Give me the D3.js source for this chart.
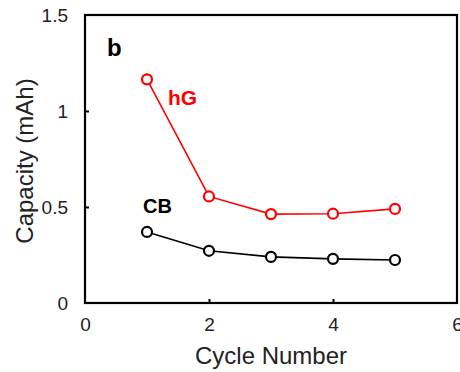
<!DOCTYPE html>
<html>
<head>
<meta charset="utf-8">
<script src="https://cdn.jsdelivr.net/npm/d3@7"></script>
<style>
  body { margin: 0; background: #fff; }
  svg text { font-family: "Liberation Sans", Arial, sans-serif; }
</style>
</head>
<body>
<div id="chart"></div>
<script>
// data
var cycles = [1, 2, 3, 4, 5];
var hG = [1.165, 0.555, 0.463, 0.465, 0.49];
var CB = [0.37, 0.272, 0.24, 0.23, 0.224];
var xTicks = [0, 2, 4, 6];
var yTicks = [0, 0.5, 1, 1.5];

var width = 460, height = 372;
var margin = {top: 15, right: 3, bottom: 69, left: 85};

var svg = d3.select("#chart").append("svg")
    .attr("width", width)
    .attr("height", height);

var x = d3.scaleLinear().domain([0, 6]).range([margin.left, width - margin.right]);
var y = d3.scaleLinear().domain([0, 1.5]).range([height - margin.bottom, margin.top]);

// frame
svg.append("rect")
    .attr("x", x(0)).attr("y", y(1.5))
    .attr("width", x(6) - x(0)).attr("height", y(0) - y(1.5))
    .attr("fill", "none").attr("stroke", "#000").attr("stroke-width", 2.2);

// axes, ticks pointing inward
var xAxis = svg.append("g")
    .attr("transform", "translate(0," + y(0) + ")")
    .call(d3.axisBottom(x).tickValues(xTicks).tickSizeInner(-4).tickSizeOuter(0).tickPadding(15).tickFormat(d3.format("d")));
var yAxis = svg.append("g")
    .attr("transform", "translate(" + x(0) + ",0)")
    .call(d3.axisLeft(y).tickValues(yTicks).tickSizeInner(-4).tickSizeOuter(0).tickPadding(17).tickFormat(function (d) { return d; }));

[xAxis, yAxis].forEach(function (g) {
    g.select(".domain").remove();
    g.selectAll(".tick line").attr("stroke", "#000").attr("stroke-width", 2);
    g.selectAll(".tick text").attr("font-size", 19).attr("fill", "#222")
        .style("font-family", "'Liberation Sans', Arial, sans-serif");
});
// hide the ticks sitting on the frame corners
xAxis.selectAll(".tick").filter(function (d) { return d === 0 || d === 6; }).select("line").remove();
yAxis.selectAll(".tick").filter(function (d) { return d === 0 || d === 1.5; }).select("line").remove();

// axis titles
svg.append("text")
    .attr("x", (x(0) + x(6)) / 2).attr("y", 364)
    .attr("text-anchor", "middle").attr("font-size", 24).attr("fill", "#222")
    .text("Cycle Number");
svg.append("text")
    .attr("transform", "translate(33,161) rotate(-90)")
    .attr("text-anchor", "middle").attr("font-size", 24).attr("fill", "#222")
    .text("Capacity (mAh)");

// series
var line = d3.line().x(function (d) { return x(d[0]); }).y(function (d) { return y(d[1]); });

function drawSeries(vals, color) {
    var pts = cycles.map(function (c, i) { return [c, vals[i]]; });
    svg.append("path").datum(pts)
        .attr("d", line).attr("fill", "none")
        .attr("stroke", color).attr("stroke-width", 1.6);
    svg.selectAll(null).data(pts).enter().append("circle")
        .attr("cx", function (d) { return x(d[0]); })
        .attr("cy", function (d) { return y(d[1]); })
        .attr("r", 5)
        .attr("fill", "#fff").attr("stroke", color).attr("stroke-width", 2.2);
}
drawSeries(hG, "#ff0000");
drawSeries(CB, "#000");

// labels
svg.append("text").attr("x", 107).attr("y", 56)
    .attr("font-size", 24).attr("font-weight", "bold").text("b");
svg.append("text").attr("x", 168).attr("y", 105)
    .attr("font-size", 21).attr("font-weight", "bold").attr("fill", "#ff0000").text("hG");
svg.append("text").attr("x", 143).attr("y", 213)
    .attr("font-size", 20).attr("font-weight", "bold").text("CB");
</script>
</body>
</html>
